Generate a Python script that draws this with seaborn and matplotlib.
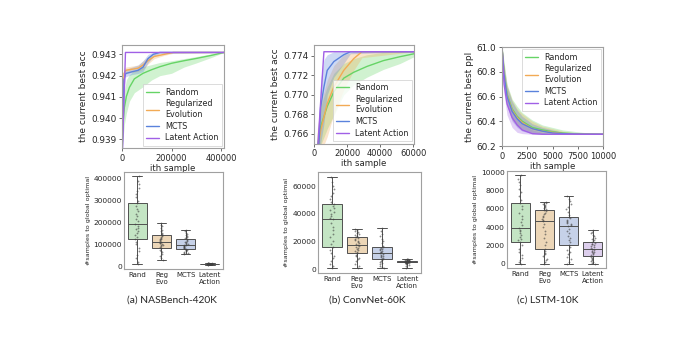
import numpy as np
import pandas as pd
import matplotlib
matplotlib.use("Agg")
import matplotlib.pyplot as plt
import seaborn as sns

sns.set_style("ticks")
plt.rcParams['font.family'] = ['DejaVu Sans']

# ---------------- data: top row (mean curve + band) ----------------
methods = ["Random", "Regularized\nEvolution", "MCTS", "Latent Action"]
line_colors = ["#66d466", "#f2aa55", "#5a82dc", "#a060e6"]

# (a) NASBench-420K
a_x = {
    "Random": [0, 4000, 9500, 17600, 30000, 50000, 85000, 120000, 153000, 200000, 250000, 301000, 360000, 412000],
    "Regularized\nEvolution": [0, 3000, 8000, 15000, 40000, 65000, 85000, 105000, 130000, 170000, 207000, 412000],
    "MCTS": [0, 3000, 8000, 15000, 40000, 65000, 85000, 105000, 126000, 153000, 412000],
    "Latent Action": [0, 2000, 14000, 412000],
}
a_mean = {
    "Random": [0.9386, 0.93977, 0.9405, 0.94102, 0.94145, 0.94185, 0.94211, 0.94228, 0.94242, 0.94258, 0.9427, 0.94281, 0.94295, 0.94309],
    "Regularized\nEvolution": [0.9380, 0.9400, 0.9421, 0.94225, 0.9423, 0.94235, 0.9425, 0.9427, 0.9429, 0.9430, 0.94309, 0.94309],
    "MCTS": [0.9380, 0.9395, 0.9418, 0.9421, 0.94218, 0.94225, 0.9424, 0.9428, 0.9430, 0.94309, 0.94309],
    "Latent Action": [0.9370, 0.9385, 0.94309, 0.94309],
}
a_lo = {
    "Random": [0.9386, 0.9390, 0.9397, 0.94023, 0.9408, 0.9412, 0.94148, 0.9418, 0.9420, 0.94211, 0.9424, 0.9426, 0.94285, 0.94309],
    "Regularized\nEvolution": [0.9380, 0.9392, 0.9418, 0.9421, 0.94215, 0.9422, 0.9423, 0.94255, 0.9428, 0.94295, 0.94305, 0.94309],
    "MCTS": [0.9380, 0.9388, 0.9414, 0.94195, 0.94205, 0.9421, 0.9422, 0.9426, 0.9429, 0.94305, 0.94309],
    "Latent Action": [0.9370, 0.9385, 0.94309, 0.94309],
}
a_hi = {
    "Random": [0.9386, 0.9406, 0.9413, 0.9418, 0.94205, 0.94225, 0.94242, 0.94252, 0.94262, 0.94270, 0.9428, 0.9429, 0.94302, 0.94309],
    "Regularized\nEvolution": [0.9380, 0.9405, 0.94235, 0.9424, 0.94245, 0.9425, 0.9427, 0.9429, 0.9430, 0.94309, 0.94309, 0.94309],
    "MCTS": [0.9380, 0.9400, 0.9421, 0.9423, 0.9424, 0.9425, 0.9427, 0.9430, 0.94309, 0.94309, 0.94309],
    "Latent Action": [0.9370, 0.9385, 0.94309, 0.94309],
}

# (b) ConvNet-60K
b_x = {
    "Random": [0, 2000, 4000, 8000, 12000, 18000, 24000, 32000, 42000, 52000, 60500],
    "Regularized\nEvolution": [0, 2000, 4000, 8000, 12000, 18000, 24000, 29000, 60500],
    "MCTS": [0, 3000, 4000, 6000, 8000, 12000, 18000, 22000, 60500],
    "Latent Action": [0, 2400, 6000, 60500],
}
b_mean = {
    "Random": [0.760, 0.7645, 0.7667, 0.7688, 0.7703, 0.7717, 0.7723, 0.7729, 0.7735, 0.7739, 0.7742],
    "Regularized\nEvolution": [0.760, 0.7640, 0.7663, 0.7691, 0.7708, 0.7725, 0.7737, 0.77441, 0.77441],
    "MCTS": [0.760, 0.7650, 0.7687, 0.7708, 0.7725, 0.7734, 0.7741, 0.77441, 0.77441],
    "Latent Action": [0.755, 0.7650, 0.77441, 0.77441],
}
b_lo = {
    "Random": [0.760, 0.7630, 0.7648, 0.7665, 0.7679, 0.7700, 0.7710, 0.7718, 0.7726, 0.7732, 0.7739],
    "Regularized\nEvolution": [0.760, 0.7620, 0.7640, 0.7657, 0.7680, 0.7705, 0.7725, 0.7738, 0.77441],
    "MCTS": [0.760, 0.7630, 0.7650, 0.7670, 0.7700, 0.7718, 0.7732, 0.7742, 0.77441],
    "Latent Action": [0.755, 0.7650, 0.77441, 0.77441],
}
b_hi = {
    "Random": [0.760, 0.7660, 0.7688, 0.7708, 0.7722, 0.7732, 0.7737, 0.7741, 0.77435, 0.77441, 0.77441],
    "Regularized\nEvolution": [0.760, 0.7665, 0.7690, 0.7715, 0.7730, 0.7741, 0.77441, 0.77441, 0.77441],
    "MCTS": [0.760, 0.7680, 0.7715, 0.7736, 0.7741, 0.7744, 0.77441, 0.77441, 0.77441],
    "Latent Action": [0.755, 0.7650, 0.77441, 0.77441],
}

# (c) LSTM-10K
c_x = [0, 200, 500, 1000, 1500, 2000, 3000, 4000, 5000, 6000, 7000, 8000, 10000]
c_mean = {
    "Random": [61.0, 60.80, 60.62, 60.50, 60.44, 60.40, 60.35, 60.33, 60.315, 60.305, 60.30, 60.298, 60.295],
    "Regularized\nEvolution": [61.0, 60.79, 60.61, 60.49, 60.43, 60.39, 60.34, 60.32, 60.31, 60.30, 60.297, 60.295, 60.295],
    "MCTS": [61.0, 60.78, 60.60, 60.48, 60.42, 60.38, 60.34, 60.32, 60.305, 60.30, 60.297, 60.295, 60.295],
    "Latent Action": [61.0, 60.70, 60.54, 60.43, 60.37, 60.33, 60.30, 60.295, 60.295, 60.295, 60.295, 60.295, 60.295],
}
c_lo = {
    "Random": [61.0, 60.72, 60.55, 60.42, 60.37, 60.34, 60.31, 60.30, 60.297, 60.295, 60.295, 60.295, 60.295],
    "Regularized\nEvolution": [61.0, 60.70, 60.53, 60.41, 60.36, 60.33, 60.30, 60.297, 60.295, 60.295, 60.295, 60.295, 60.295],
    "MCTS": [61.0, 60.69, 60.52, 60.40, 60.35, 60.32, 60.30, 60.297, 60.295, 60.295, 60.295, 60.295, 60.295],
    "Latent Action": [61.0, 60.62, 60.45, 60.35, 60.31, 60.30, 60.295, 60.295, 60.295, 60.295, 60.295, 60.295, 60.295],
}
c_hi = {
    "Random": [61.0, 60.88, 60.70, 60.58, 60.52, 60.47, 60.41, 60.37, 60.35, 60.33, 60.32, 60.31, 60.30],
    "Regularized\nEvolution": [61.0, 60.86, 60.69, 60.57, 60.50, 60.46, 60.40, 60.36, 60.34, 60.32, 60.31, 60.30, 60.295],
    "MCTS": [61.0, 60.85, 60.68, 60.56, 60.49, 60.44, 60.38, 60.35, 60.33, 60.31, 60.30, 60.297, 60.295],
    "Latent Action": [61.0, 60.78, 60.62, 60.50, 60.43, 60.38, 60.33, 60.31, 60.30, 60.295, 60.295, 60.295, 60.295],
}

# ---------------- data: bottom row (#samples to global optimal) ----------------
box_labels = ["Rand", "Reg\nEvo", "MCTS", "Latent\nAction"]
box_colors = ["#bfeabf", "#f5d8ae", "#c0cfee", "#dccaf2"]

a_rand = [8000, 20000, 35000, 52000, 70000, 85000, 100000, 112000, 125000,
          133000, 142000, 150000, 160000, 168000, 176000, 186000, 195000,
          205000, 216000, 228000, 240000, 252000, 263000, 276000, 289000,
          300000, 315000, 330000, 345000, 360000, 375000, 392000, 411000]
a_reg = [26000, 35000, 45000, 55000, 63000, 70000, 76000, 81000, 85000,
         88000, 92000, 95000, 99000, 102000, 105000, 108000, 111000,
         115000, 118000, 122000, 126000, 130000, 133000, 137000, 141000,
         147000, 153000, 160000, 167000, 175000, 183000, 190000, 198000]
a_mcts = [54000, 58000, 62000, 66000, 69000, 72000, 75000, 78000, 80000,
          82000, 84000, 86000, 88000, 90000, 92000, 95000, 97000,
          100000, 103000, 106000, 109000, 112000, 116000, 120000, 123000,
          127000, 132000, 137000, 142000, 147000, 153000, 159000, 165000]
a_lat = [7000, 7300, 7600, 7900, 8100, 8400, 8600, 8800, 9000,
         9100, 9200, 9300, 9400, 9500, 9700, 9800, 10000,
         10100, 10200, 10300, 10400, 10500, 10600, 10800, 11000,
         11300, 11500, 11800, 12000, 12300, 12500, 12800, 13000]

b_rand = [1000, 2500, 4000, 6000, 8000, 9500, 11500, 13500, 15600,
          18000, 20500, 23000, 25500, 28000, 30500, 33000, 35900,
          37000, 38500, 40000, 41500, 42500, 44000, 45500, 46800,
          48500, 50500, 52500, 55000, 57500, 60000, 63000, 66800]
b_reg = [1000, 2500, 4000, 5500, 7000, 8200, 9400, 10500, 11500,
         12300, 13000, 13800, 14500, 15300, 16000, 16800, 17600,
         18300, 19000, 19700, 20400, 21100, 21800, 22500, 23200,
         24000, 24700, 25400, 26100, 26800, 27500, 28200, 29000]
b_mcts = [500, 1500, 2500, 3400, 4200, 5000, 5700, 6400, 7100,
          7600, 8200, 8700, 9300, 9800, 10400, 10900, 11500,
          12000, 12600, 13100, 13700, 14200, 14800, 15300, 15900,
          17000, 18500, 20000, 21800, 23600, 25500, 27500, 29800]
b_lat = [1000, 2000, 3000, 3700, 4100, 4400, 4600, 4750, 4900,
         4950, 5000, 5050, 5100, 5150, 5200, 5300, 5400,
         5480, 5560, 5640, 5720, 5800, 5880, 5980, 6100,
         6250, 6400, 6550, 6700, 6850, 7000, 7150, 7300]

c_rand = [0, 150, 350, 600, 900, 1250, 1600, 2000, 2360,
          2550, 2750, 2950, 3150, 3350, 3550, 3720, 3890,
          4200, 4550, 4900, 5250, 5600, 5950, 6300, 6650,
          7000, 7400, 7800, 8200, 8600, 9000, 9300, 9670]
c_reg = [0, 150, 350, 550, 800, 1000, 1200, 1420, 1640,
         2000, 2400, 2800, 3200, 3600, 4000, 4300, 4620,
         4780, 4940, 5100, 5250, 5400, 5560, 5720, 5890,
         6000, 6100, 6220, 6330, 6440, 6550, 6650, 6760]
c_mcts = [0, 200, 450, 700, 1000, 1250, 1500, 1800, 2070,
          2320, 2570, 2820, 3070, 3320, 3570, 3820, 4070,
          4200, 4330, 4450, 4580, 4700, 4830, 4960, 5090,
          5350, 5650, 5950, 6250, 6550, 6850, 7100, 7380]
c_lat = [0, 100, 200, 300, 400, 500, 600, 720, 840,
         940, 1040, 1130, 1220, 1320, 1410, 1500, 1600,
         1700, 1800, 1900, 2000, 2100, 2200, 2300, 2400,
         2550, 2700, 2850, 3000, 3150, 3300, 3470, 3640]

captions = ["(a) NASBench-420K", "(b) ConvNet-60K", "(c) LSTM-10K"]

# ---------------- figure ----------------
W, H = 676, 347
fig = plt.figure(figsize=(W / 100, H / 100), dpi=100)


def px(x0, y0, x1, y1):
    return [x0 / W, 1 - y1 / H, (x1 - x0) / W, (y1 - y0) / H]


def style_axes(ax, ticks=True):
    for s in ax.spines.values():
        s.set_color("#a0a0a0")
        s.set_linewidth(0.8)
    ax.tick_params(length=2.5 if ticks else 0, width=0.6, pad=1.5, color="#555555")


def top_panel(ax, xs, mean, lo, hi, xlim, ylim, yticks, xticks, ylabel, legend_loc):
    for m, col in zip(methods, line_colors):
        x = xs[m] if isinstance(xs, dict) else xs
        d = pd.DataFrame({"x": x, "y": mean[m]})
        ax.fill_between(x, lo[m], hi[m], color=col, alpha=0.3, linewidth=0)
        sns.lineplot(data=d, x="x", y="y", ax=ax, color=col, linewidth=1.0, label=m)
    ax.set_xlim(*xlim)
    ax.set_ylim(*ylim)
    ax.set_yticks(yticks)
    ax.set_xticks(xticks)
    ax.set_xlabel("ith sample", fontsize=6.2, labelpad=1)
    ax.set_ylabel(ylabel, fontsize=6.5, labelpad=2)
    style_axes(ax)
    ax.tick_params(axis="y", labelsize=6.4)
    ax.tick_params(axis="x", labelsize=6.0)
    leg = ax.legend(loc=legend_loc, fontsize=5.8, frameon=True, handlelength=1.5,
                    borderpad=0.4, labelspacing=0.35, handletextpad=0.8, fancybox=False,
                    borderaxespad=0.3)
    leg.get_frame().set_edgecolor("#cccccc")
    leg.get_frame().set_linewidth(0.6)


ax1 = fig.add_axes(px(122, 45, 224, 148))
top_panel(ax1, a_x, a_mean, a_lo, a_hi, (0, 412000), (0.9386, 0.94344),
          [0.939, 0.940, 0.941, 0.942, 0.943], [0, 200000, 400000],
          "the current best acc", "lower right")
ax1.yaxis.set_major_formatter(matplotlib.ticker.FormatStrFormatter("%.3f"))

ax2 = fig.add_axes(px(314, 45, 414, 143.5))
top_panel(ax2, b_x, b_mean, b_lo, b_hi, (0, 60500), (0.765, 0.7751),
          [0.766, 0.768, 0.770, 0.772, 0.774], [0, 20000, 40000, 60000],
          "the current best acc", "lower right")
ax2.yaxis.set_major_formatter(matplotlib.ticker.FormatStrFormatter("%.3f"))

ax3 = fig.add_axes(px(502, 47, 603, 146))
top_panel(ax3, c_x, c_mean, c_lo, c_hi, (0, 10000), (60.2, 61.0),
          [60.2, 60.4, 60.6, 60.8, 61.0], [0, 2500, 5000, 7500, 10000],
          "the current best ppl", "upper right")
ax3.yaxis.set_major_formatter(matplotlib.ticker.FormatStrFormatter("%.1f"))


def box_panel(ax, groups, yticks):
    df = pd.DataFrame({
        "method": np.repeat(box_labels, [len(g) for g in groups]),
        "samples": np.concatenate(groups),
    })
    sns.boxplot(data=df, x="method", y="samples", hue="method", palette=box_colors,
                order=box_labels, whis=(0, 100), width=0.8, linewidth=0.7,
                linecolor="#505050", showfliers=False, legend=False, ax=ax)
    sns.stripplot(data=df, x="method", y="samples", order=box_labels, color="#404040",
                  size=1.3, alpha=0.6, jitter=0.09, ax=ax)
    ax.set_xlabel("")
    ax.set_ylabel("#samples to global optimal", fontsize=4.6, labelpad=2)
    ax.set_yticks(yticks)
    style_axes(ax, ticks=False)
    ax.tick_params(axis="y", labelsize=5.4)
    ax.tick_params(axis="x", labelsize=5.0, pad=2)
    ax.set_xlim(-0.55, 3.55)


np.random.seed(3)
bx1 = fig.add_axes(px(124, 172, 223, 269))
box_panel(bx1, [a_rand, a_reg, a_mcts, a_lat], [0, 100000, 200000, 300000, 400000])

bx2 = fig.add_axes(px(318, 172, 421, 273))
box_panel(bx2, [b_rand, b_reg, b_mcts, b_lat], [0, 20000, 40000, 60000])

bx3 = fig.add_axes(px(507, 171, 606, 268))
box_panel(bx3, [c_rand, c_reg, c_mcts, c_lat], [0, 2000, 4000, 6000, 8000, 10000])

for cx, txt in zip([172, 367, 548], captions):
    fig.text(cx / W, 1 - 300 / H, txt, ha="center", va="center", fontsize=7.4,
             family=["Lato", "DejaVu Sans"])

fig.savefig("out.png", dpi=100)
